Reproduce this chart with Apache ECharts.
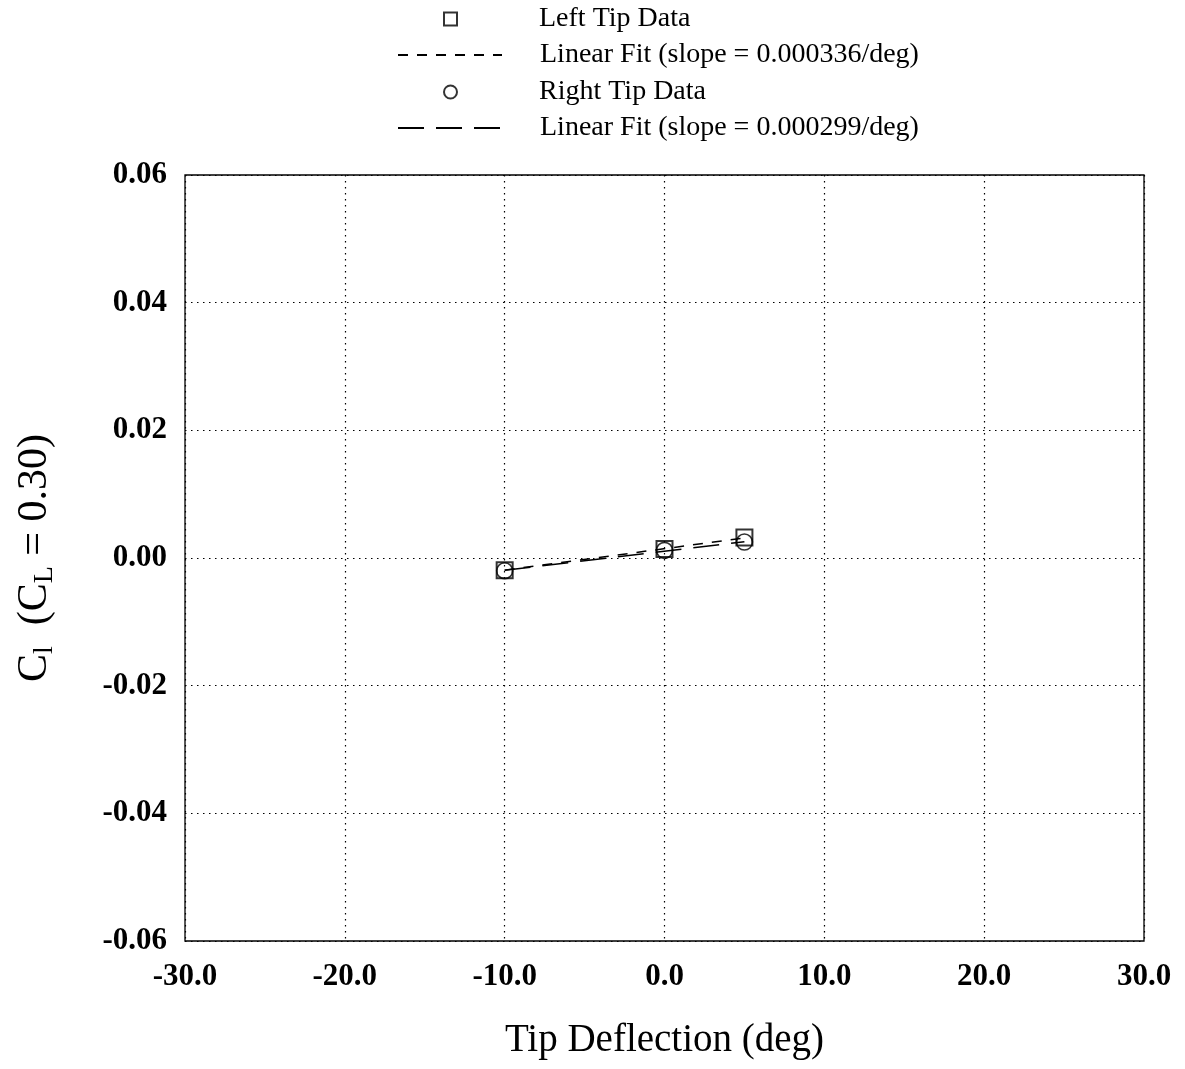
<!DOCTYPE html>
<html>
<head>
<meta charset="utf-8">
<script src="https://cdn.jsdelivr.net/npm/echarts@6/dist/echarts.min.js"></script>
<style>html,body{margin:0;padding:0;background:#fff}#c{width:1185px;height:1069px}</style>
</head>
<body>
<div id="c"></div>
<script>
// ---- data ----
const deflection = [-10, 0, 5];
const leftTip = [-0.0019, 0.0014, 0.0032];
const rightTip = [-0.0020, 0.0012, 0.0025];
const fitX = [-10, 5];
const leftFit = [-0.0019, 0.00314];
const rightFit = [-0.00193, 0.00256];
const seriesNames = ['Left Tip Data', 'Linear Fit (slope = 0.000336/deg)', 'Right Tip Data', 'Linear Fit (slope = 0.000299/deg)'];
const xTitle = 'Tip Deflection (deg)';

const FONT = '"Liberation Serif", "Times New Roman", serif';
const pairs = (xs, ys) => xs.map((x, i) => [x, ys[i]]);

const chart = echarts.init(document.getElementById('c'), null, {renderer: 'canvas'});

const legendText = {fontFamily: FONT, fontSize: 28, color: '#000', lineHeight: 30};
function mkLegend(name, left, top, w, h, padLeft, hideSymbol) {
  const l = {
    data: [name], left: left, top: top, itemWidth: w, itemHeight: h,
    selectedMode: false, padding: 0,
    textStyle: Object.assign({}, legendText, {padding: [0, 0, 0, padLeft]})
  };
  if (hideSymbol) l.itemStyle = {opacity: 0, color: 'rgba(0,0,0,0)', borderWidth: 0};
  return l;
}

chart.setOption({
  animation: false,
  backgroundColor: '#fff',
  legend: [
    mkLegend(seriesNames[0], 443, 4, 13, 13, 77, false),
    mkLegend(seriesNames[1], 397, 40, 104, 14, 33, true),
    mkLegend(seriesNames[2], 443, 77, 13, 13, 77, false),
    mkLegend(seriesNames[3], 397, 113, 104, 14, 33, true)
  ],
  grid: {left: 185, right: 41, top: 175, bottom: 128, show: true, borderColor: '#000', borderWidth: 1.3,
    backgroundColor: 'transparent', outerBoundsMode: 'none', containLabel: false},
  xAxis: {
    type: 'value', min: -30, max: 30, interval: 10,
    name: xTitle, nameLocation: 'middle', nameGap: 80,
    nameTextStyle: {fontFamily: FONT, fontSize: 39, color: '#000'},
    axisLine: {show: false}, axisTick: {show: false},
    axisLabel: {fontFamily: FONT, fontSize: 31, fontWeight: 'bold', color: '#000', margin: 20,
      formatter: v => v.toFixed(1)},
    splitLine: {show: true, lineStyle: {color: '#000', width: 1.2, type: [1.5, 4.5]}}
  },
  yAxis: {
    type: 'value', min: -0.06, max: 0.06, interval: 0.02,
    name: '{m|C}{s|l}{m|  (C}{s|L}{m| = 0.30)}', nameLocation: 'middle', nameGap: 126, nameRotate: 90,
    nameTextStyle: {
      fontFamily: FONT, color: '#000',
      rich: {
        m: {fontFamily: FONT, fontSize: 42, color: '#000', lineHeight: 48, verticalAlign: 'middle'},
        s: {fontFamily: FONT, fontSize: 28, color: '#000', lineHeight: 16, verticalAlign: 'bottom'}
      }
    },
    axisLine: {show: false}, axisTick: {show: false},
    axisLabel: {fontFamily: FONT, fontSize: 31, fontWeight: 'bold', color: '#000', margin: 18,
      formatter: v => v.toFixed(2)},
    splitLine: {show: true, lineStyle: {color: '#000', width: 1.2, type: [1.5, 4.5]}}
  },
  series: [
    {
      name: seriesNames[0], type: 'scatter', symbol: 'rect', symbolSize: 16,
      itemStyle: {color: 'rgba(0,0,0,0)', borderColor: '#000', borderWidth: 2},
      data: pairs(deflection, leftTip), z: 3
    },
    {
      name: seriesNames[1], type: 'line', showSymbol: false, symbol: 'none',
      lineStyle: {color: '#000', width: 1.5, type: [10, 9]},
      data: pairs(fitX, leftFit), z: 2
    },
    {
      name: seriesNames[2], type: 'scatter', symbol: 'circle', symbolSize: 16,
      itemStyle: {color: 'rgba(0,0,0,0)', borderColor: '#000', borderWidth: 1.6},
      data: pairs(deflection, rightTip), z: 3
    },
    {
      name: seriesNames[3], type: 'line', showSymbol: false, symbol: 'none',
      lineStyle: {color: '#000', width: 1.5, type: [26, 12]},
      data: pairs(fitX, rightFit), z: 2
    }
  ]
});
</script>
</body>
</html>
